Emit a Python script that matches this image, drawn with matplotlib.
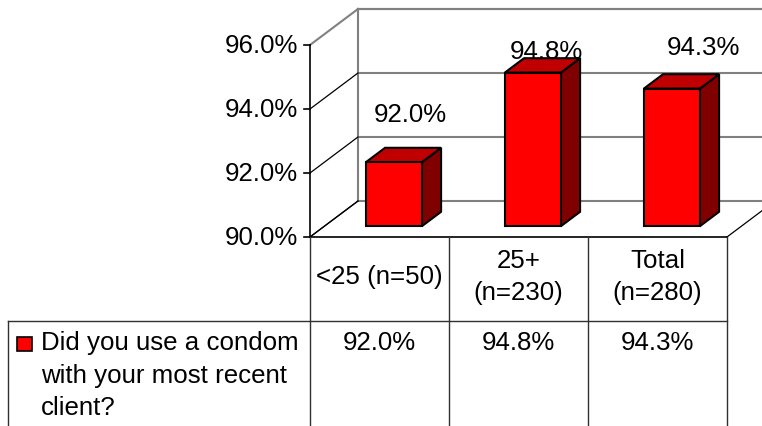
import matplotlib.pyplot as plt
from matplotlib.patches import Polygon, Rectangle

plt.rcParams['font.family'] = ['Liberation Sans', 'DejaVu Sans']

categories = ["<25 (n=50)", "25+\n(n=230)", "Total\n(n=280)"]
values = [92.0, 94.8, 94.3]
series_name = "Did you use a condom\nwith your most recent\nclient?"
y_ticks = [90, 92, 94, 96]

# where Excel dropped the value labels (offset from bar top, data units)
label_dx = [0.22, 0.20, 0.33]
label_dy = [1.84, 1.01, 1.64]

W, H = 762, 427
x_lo, x_hi = -2.730, 2.752
y_lo, y_hi = 84.094, 97.4375
DX, DY = 48 / 139, 36 / 32      # depth of the 3d box
BAR_W = 0.403
BAR_POS = 0.3                   # bar front sits 30% into the depth
BAR_D = 0.4                     # bar depth as share of box depth
FS = 18.6

ymin, ymax = y_ticks[0], y_ticks[-1]
ncat = len(categories)
left, right = -0.5, ncat - 0.5


def px(x, y):
    # pixel position -> data position, for table layout
    return x_lo + x / W * (x_hi - x_lo), y_hi - y / H * (y_hi - y_lo)


fig = plt.figure(figsize=(W / 100, H / 100), dpi=100)
ax = fig.add_axes([0, 0, 1, 1])
ax.set_xlim(x_lo, x_hi)
ax.set_ylim(y_lo, y_hi)
ax.axis('off')

gray = '#808080'

# back wall
ax.plot([left + DX, x_hi], [ymax + DY, ymax + DY], color=gray, lw=1.5)
ax.plot([left + DX, left + DX], [ymin + DY, ymax + DY], color=gray, lw=1.5)
for t in y_ticks:
    ax.plot([left + DX, x_hi], [t + DY, t + DY], color=gray, lw=1.5)
# side wall
ax.plot([left, left + DX], [ymax, ymax + DY], color=gray, lw=1.5)
for t in y_ticks[:-1]:
    ax.plot([left, left + DX], [t, t + DY], color='black', lw=0.9)
# floor
ax.plot([right, right + DX], [ymin, ymin + DY], color='black', lw=0.9)

# value axis
ax.plot([left, left], [ymin, ymax], color='black', lw=1.2)
for t in y_ticks:
    ax.plot([left - 0.045, left], [t, t], color='black', lw=1.2)
    ax.text(left - 0.086, t, f"{t:.1f}%", ha='right', va='center', fontsize=FS)

# bars
for i, v in enumerate(values):
    ox, oy = BAR_POS * DX, BAR_POS * DY
    bx, by = BAR_D * DX, BAR_D * DY
    xl, xr = i - BAR_W / 2 + ox, i + BAR_W / 2 + ox
    y0, y1 = ymin + oy, v + oy
    front = [(xl, y0), (xr, y0), (xr, y1), (xl, y1)]
    top = [(xl, y1), (xr, y1), (xr + bx, y1 + by), (xl + bx, y1 + by)]
    side = [(xr, y0), (xr + bx, y0 + by), (xr + bx, y1 + by), (xr, y1)]
    ax.add_patch(Polygon(side, closed=True, fc='#800000', ec='black', lw=1.5, zorder=3))
    ax.add_patch(Polygon(top, closed=True, fc='#C00000', ec='black', lw=1.5, zorder=3))
    ax.add_patch(Polygon(front, closed=True, fc='#FF0000', ec='black', lw=1.5, zorder=3))
    ax.text(i + label_dx[i], v + label_dy[i], f"{v:.1f}%", ha='center', va='center',
            fontsize=FS, zorder=4)

# front floor edge / table top
ax.plot([left, right], [ymin, ymin], color='black', lw=1.2)
ax.plot([left, left + DX], [ymin, ymin + DY], color='black', lw=0.9)

# data table
tcol = '#303030'
row_y = px(0, 322)[1]
tab_left = px(8, 0)[0]
for b in range(ncat + 1):
    ax.plot([left + b, left + b], [y_lo, ymin], color=tcol, lw=1)
ax.plot([tab_left, right], [row_y, row_y], color=tcol, lw=1)
ax.plot([tab_left, tab_left], [y_lo, row_y], color=tcol, lw=1)

head_y = px(0, 277)[1]
val_y = px(0, 331)[1]
for i, c in enumerate(categories):
    ax.text(i, head_y, c, ha='center', va='center', fontsize=FS, linespacing=1.4)
    ax.text(i, val_y, f"{values[i]:.1f}%", ha='center', va='top', fontsize=FS)

sx0, sy0 = px(17, 352)
sx1, sy1 = px(32, 338)
ax.add_patch(Rectangle((sx0, sy0), sx1 - sx0, sy1 - sy0, fc='#FF0000', ec='black', lw=1.2))
lx, ly = px(41, 331)
ax.text(lx, ly, series_name, ha='left', va='top', fontsize=FS, linespacing=1.45)

fig.savefig('out.png', dpi=100)
